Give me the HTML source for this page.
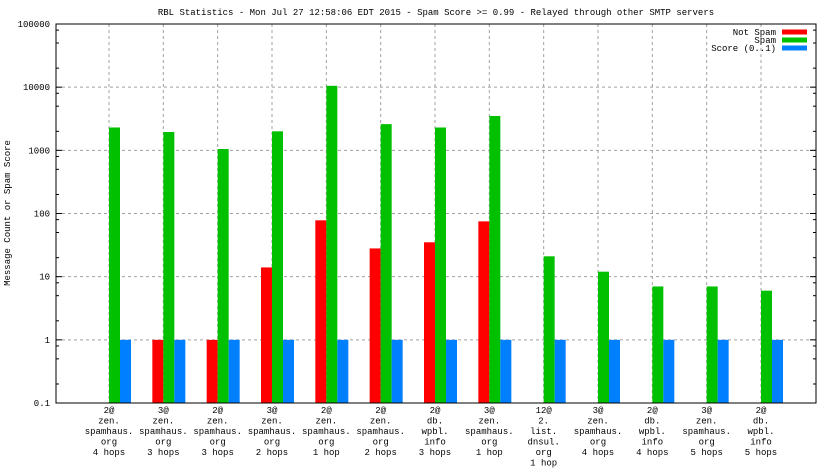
<!DOCTYPE html>
<html><head><meta charset="utf-8"><style>
body{margin:0;background:#fff}
svg{display:block;font-family:"Liberation Mono",monospace;font-size:9px}
</style></head><body>
<svg id="chart" width="832" height="468" viewBox="0 0 832 468" xmlns="http://www.w3.org/2000/svg">
<text x="436" y="15" text-anchor="middle">RBL Statistics - Mon Jul 27 12:58:06 EDT 2015 - Spam Score &gt;= 0.99 - Relayed through other SMTP servers</text>
<text transform="translate(10,213) rotate(-90)" text-anchor="middle">Message Count or Spam Score</text>
<g id="grid"></g><g id="bars"></g><g id="axes"></g><g id="legend"></g>
</svg>
<script>
const categories=[["2@","zen.","spamhaus.","org","4 hops"],["3@","zen.","spamhaus.","org","3 hops"],["2@","zen.","spamhaus.","org","3 hops"],["3@","zen.","spamhaus.","org","2 hops"],["2@","zen.","spamhaus.","org","1 hop"],["2@","zen.","spamhaus.","org","2 hops"],["2@","db.","wpbl.","info","3 hops"],["3@","zen.","spamhaus.","org","1 hop"],["12@","2.","list.","dnsul.","org","1 hop"],["3@","zen.","spamhaus.","org","4 hops"],["2@","db.","wpbl.","info","4 hops"],["3@","zen.","spamhaus.","org","5 hops"],["2@","db.","wpbl.","info","5 hops"]];
const notSpam=[0,1,1,14,78,28,35,75,0,0,0,0,0];
const spam=[2300,1950,1050,2000,10500,2600,2300,3500,21,12,7,7,6];
const score=[1,1,1,1,1,1,1,1,1,1,1,1,1];
const yTicks=[0.1,1,10,100,1000,10000,100000];
const yTickLabels=["0.1","1","10","100","1000","10000","100000"];
const seriesNames=["Not Spam","Spam","Score (0..1)"];
const colors=["#ff0000","#00c000","#0080ff"];
const L=56,R=816,T=24,B=403;
const ns="http://www.w3.org/2000/svg";
function y(v){return B-(Math.log10(v)+1)/6*(B-T);}
function x(i){return 109+i*(761-109)/(categories.length-1);}
function mk(tag,attrs,parent,txt){const e=document.createElementNS(ns,tag);for(const k in attrs)e.setAttribute(k,attrs[k]);if(txt!==undefined)e.textContent=txt;parent.appendChild(e);return e;}
const grid=document.getElementById('grid'),bars=document.getElementById('bars'),axes=document.getElementById('axes'),leg=document.getElementById('legend');
yTicks.forEach((v,i)=>{const yy=y(v);
 if(i>0&&i<yTicks.length-1){const g=mk('line',{x1:L,x2:R,y1:yy,y2:yy,stroke:'#a0a0a0','stroke-dasharray':'3,3'},grid);
 }
 const t=mk('text',{x:L-6,y:yy+3,'text-anchor':'end'},axes,yTickLabels[i]);
 
 mk('line',{x1:L,x2:L+6,y1:yy,y2:yy,stroke:'#000'},axes);mk('line',{x1:R,x2:R-6,y1:yy,y2:yy,stroke:'#000'},axes);
 if(i<yTicks.length-1){[2,5,8].forEach(m=>{const my=y(v*m);mk('line',{x1:L,x2:L+3,y1:my,y2:my,stroke:'#000'},axes);mk('line',{x1:R,x2:R-3,y1:my,y2:my,stroke:'#000'},axes);});}
});
const series=[notSpam,spam,score];
categories.forEach((c,i)=>{const cx=x(i);
 const g=mk('line',{x1:cx,x2:cx,y1:T,y2:B,stroke:'#a0a0a0','stroke-dasharray':'3,3'},grid);
 
 series.forEach((s,k)=>{const v=s[i];if(v>0){const top=y(v);
  const r=mk('rect',{x:cx-11+k*11,y:top,width:11,height:B-top,fill:colors[k]},bars);
  }});
 const t=mk('text',{x:cx,y:B+10,'text-anchor':'middle'},axes);
 
 c.forEach((ln,j)=>{mk('tspan',{x:cx,dy:j?10.5:0},t,ln);});
});
const frame=mk('rect',{x:L,y:T,width:R-L,height:B-T,fill:'none',stroke:'#000'},axes);

seriesNames.forEach((n,k)=>{const yy=32+k*8;
 const t=mk('text',{x:776,y:yy+3,'text-anchor':'end'},leg,n);
 
 const r=mk('rect',{x:782,y:yy-2.5,width:25,height:5,fill:colors[k]},leg);
 });
</script>
</body></html>
